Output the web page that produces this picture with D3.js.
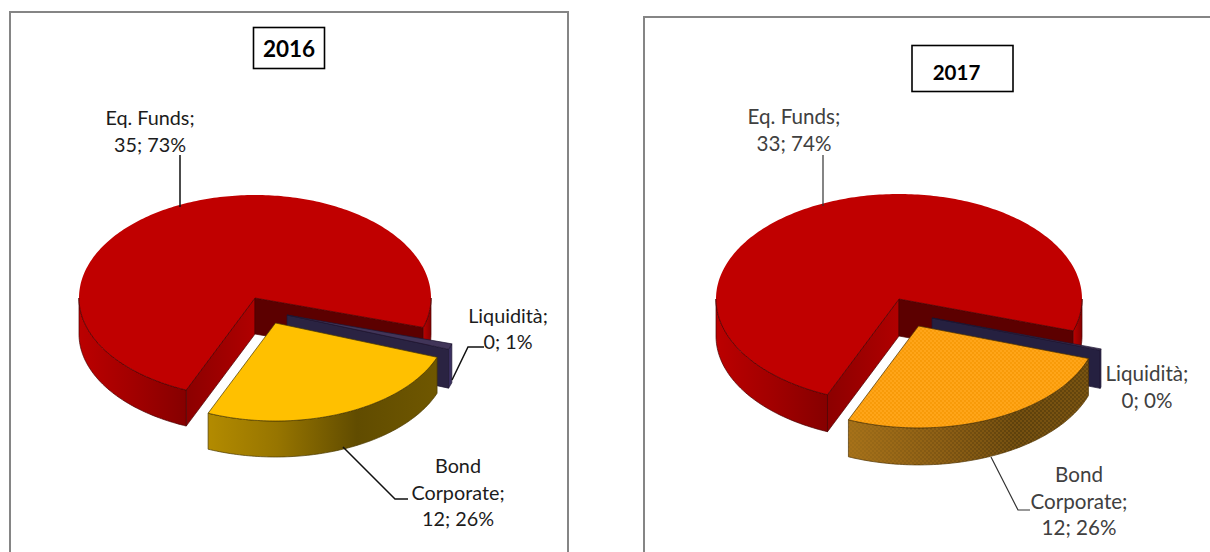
<!DOCTYPE html>
<html><head><meta charset="utf-8">
<script src="https://cdn.jsdelivr.net/npm/d3@7/dist/d3.min.js"></script>
<style>html,body{margin:0;padding:0;background:#fff;overflow:hidden}svg{display:block}</style>
</head><body>
<svg id="c" width="1210" height="552"></svg>
<script>
// ---- data ----
const categories = ["Eq. Funds", "Liquidità", "Bond Corporate"];
const labelLines = [["Eq. Funds;"], ["Liquidità;"], ["Bond", "Corporate;"]];
const values2016 = [35.4, 0.45, 12.4];
const values2017 = [33.4, 0.1, 11.9];
const years = ["2016", "2017"];

// ---- layout ----
const rad = d => d * Math.PI / 180;
const charts = [
  { year: years[0], values: values2016, textFill: "#1c1c1c", leader: "#111", leaderW: 1.5,
    frame: [10, 12, 558, 600],
    box: [253.5, 27.5, 71, 41], titleXY: [289, 57], titleSize: 22.5, fs: 19.8, lh: 26.5,
    pie: { cx: 255, cy: 298, rx: 176, ryB: 103, ryF: 100, depth: 36 },
    start: 203,
    off: [[0, 0, 1], [32, 17, 0.98], [20.5, 25, 0.98]],
    depthK: [1, 1.08, 1],
    labels: [[150, 125], [508, 322.5], [458, 473]],
    leaders: [[[180, 155], [180, 207]], [[484, 347], [468, 347], [452, 380]], [[343, 447], [395, 499], [408, 499]]],
    dotted: false },
  { year: years[1], values: values2017, textFill: "#404040", leader: "#333", leaderW: 1.2,
    frame: [644, 17, 700, 600],
    box: [912, 45.5, 101, 46], titleXY: [956.5, 79.5], titleSize: 20.5, fs: 20.6, lh: 26.5,
    pie: { cx: 899, cy: 299, rx: 183, ryB: 105, ryF: 104, depth: 37 },
    start: 203,
    off: [[0, 0, 1], [33, 19, 0.97], [19.5, 27, 0.98]],
    depthK: [1, 1.03, 1],
    labels: [[794, 124], [1147, 381], [1079, 482]],
    leaders: [[[823, 155], [823, 206]], null, [[991, 457], [1018, 510], [1030, 510]]],
    dotted: true }
];

const svg = d3.select("#c");
const defs = svg.append("defs");
function grad(id, stops) {
  const g = defs.append("linearGradient").attr("id", id).attr("x1", 0).attr("x2", 1).attr("y1", 0).attr("y2", 0);
  stops.forEach(([o, c]) => g.append("stop").attr("offset", o).attr("stop-color", c));
}
grad("redSide", [[0, "#bb0000"], [0.5, "#a20000"], [1, "#860000"]]);
grad("redCut", [[0, "#8c0000"], [1, "#b00000"]]);
grad("bondSideA", [[0, "#b38b00"], [0.3, "#977500"], [0.65, "#614c00"], [1, "#6f5700"]]);
grad("bondSideB", [[0, "#a06e18"], [0.4, "#7e5512"], [0.7, "#5e410c"], [1, "#65460d"]]);
const pt = defs.append("pattern").attr("id", "dotsTop").attr("width", 4).attr("height", 4)
  .attr("patternUnits", "userSpaceOnUse");
pt.append("rect").attr("width", 4).attr("height", 4).attr("fill", "#ffa519");
pt.append("circle").attr("cx", 1).attr("cy", 1).attr("r", 0.9).attr("fill", "#f59600");
pt.append("circle").attr("cx", 3).attr("cy", 3).attr("r", 0.9).attr("fill", "#f59600");
const ps = defs.append("pattern").attr("id", "dotsSide").attr("width", 4).attr("height", 4)
  .attr("patternUnits", "userSpaceOnUse");
ps.append("circle").attr("cx", 1).attr("cy", 1).attr("r", 0.9).attr("fill", "rgba(190,125,30,.35)");
ps.append("circle").attr("cx", 3).attr("cy", 3).attr("r", 0.9).attr("fill", "rgba(190,125,30,.35)");

const sliceStyle = c => [
  { top: "#c00000", side: "url(#redSide)", startFace: "url(#redCut)", endFace: "#5c0000", stroke: "#4a0000" },
  { top: "#413559", side: "#3a3060", startFace: "#2a2342", endFace: c.dotted ? "#252040" : "#2a2342", stroke: "#1c1630" },
  { top: c.dotted ? "url(#dotsTop)" : "#ffc000",
    side: c.dotted ? "url(#bondSideB)" : "url(#bondSideA)", startFace: "#5c4a00", endFace: "#5c4a00",
    stroke: c.dotted ? "#4c3000" : "#4a3a00" }
];

const line = d3.line();

charts.forEach(c => {
  const g = svg.append("g");
  // frame
  g.append("rect").attr("x", c.frame[0]).attr("y", c.frame[1]).attr("width", c.frame[2]).attr("height", c.frame[3])
    .attr("fill", "#fff").attr("stroke", "#858585").attr("stroke-width", 2);

  // d3.pie gives angles, 0 at twelve o'clock, turned so the first slice starts at the front left
  const arcs = d3.pie().sort(null).startAngle(rad(c.start)).endAngle(rad(c.start + 360))(c.values);
  const total = d3.sum(c.values);
  const styles = sliceStyle(c);

  arcs.forEach((a, i) => {
    const [dx, dy, k] = c.off[i];
    const P = c.pie, st = styles[i];
    const depth = P.depth * c.depthK[i];
    // screen angle in degrees, clockwise from +x
    const th0 = a.startAngle * 180 / Math.PI - 90, th1 = a.endAngle * 180 / Math.PI - 90;
    const px = (th, z = 0) => {
      const s = Math.sin(rad(th));
      return [P.cx + dx + k * P.rx * Math.cos(rad(th)),
              P.cy + dy + k * (s > 0 ? P.ryF : P.ryB) * s + z];
    };
    const apex = (z = 0) => [P.cx + dx, P.cy + dy + z];
    const sweep = (t0, t1, z = 0) => {
      const n = Math.max(2, Math.ceil(Math.abs(t1 - t0)));
      return d3.range(n + 1).map(j => px(t0 + (t1 - t0) * j / n, z));
    };
    const sg = g.append("g").attr("class", "slice");
    const edge = { stroke: st.stroke, "stroke-width": 0.7, "stroke-linejoin": "round" };
    const face = (th, fill) => sg.append("path")
      .attr("d", line([apex(), px(th), px(th, depth), apex(depth)]) + "Z")
      .attr("fill", fill).attr("stroke", edge.stroke).attr("stroke-width", edge["stroke-width"]).attr("stroke-linejoin", "round");
    // cut faces that look towards the viewer
    if (Math.sin(rad(th0 - 90)) > 0) face(th0, st.startFace);
    if (Math.sin(rad(th1 + 90)) > 0) face(th1, st.endFace);
    // outer wall: only the parts of the rim on the front half
    const rims = [];
    [-360, 0, 360].forEach(off => {
      const t0 = Math.max(th0, off), t1 = Math.min(th1, off + 180);
      if (t1 <= t0) return;
      rims.push([t0, t1]);
      const d = line(sweep(t0, t1).concat(sweep(t1, t0, depth))) + "Z";
      sg.append("path").attr("d", d).attr("fill", st.side)
        .attr("stroke", edge.stroke).attr("stroke-width", 0.7).attr("stroke-linejoin", "round");
      if (c.dotted && i === 2) sg.append("path").attr("d", d).attr("fill", "url(#dotsSide)");
    });
    // top face without an outline at the back of the rim
    sg.append("path").attr("d", line([apex()].concat(sweep(th0, th1))) + "Z").attr("fill", st.top);
    // outline: front rim and the two radial cuts
    rims.forEach(([t0, t1]) => sg.append("path").attr("d", line(sweep(t0, t1))).attr("fill", "none")
      .attr("stroke", edge.stroke).attr("stroke-width", 0.7));
    sg.append("path").attr("d", line([px(th0), apex(), px(th1)])).attr("fill", "none")
      .attr("stroke", edge.stroke).attr("stroke-width", 0.7).attr("stroke-linejoin", "round");
  });

  // leaders
  c.leaders.forEach(pts => {
    if (!pts) return;
    g.append("path").attr("d", line(pts)).attr("fill", "none")
      .attr("stroke", c.leader).attr("stroke-width", c.leaderW);
  });

  // data labels: name; value; percent
  labelLines.forEach((lines, i) => {
    const all = lines.concat([`${Math.round(c.values[i])}; ${Math.round(c.values[i] / total * 100)}%`]);
    const t = g.append("text").attr("text-anchor", "middle")
      .attr("font-family", "Lato, 'Open Sans', sans-serif").attr("font-size", c.fs).attr("fill", c.textFill);
    all.forEach((s, j) => t.append("tspan").attr("x", c.labels[i][0]).attr("y", c.labels[i][1] + j * c.lh).text(s));
  });

  // year box
  g.append("rect").attr("x", c.box[0]).attr("y", c.box[1]).attr("width", c.box[2]).attr("height", c.box[3])
    .attr("fill", "#fff").attr("stroke", "#000").attr("stroke-width", 1.6);
  g.append("text").attr("x", c.titleXY[0]).attr("y", c.titleXY[1]).attr("text-anchor", "middle")
    .attr("font-family", "Lato, 'Open Sans', sans-serif").attr("font-weight", 700)
    .attr("font-size", c.titleSize).attr("fill", "#000").text(c.year);
});
</script>
</body></html>
